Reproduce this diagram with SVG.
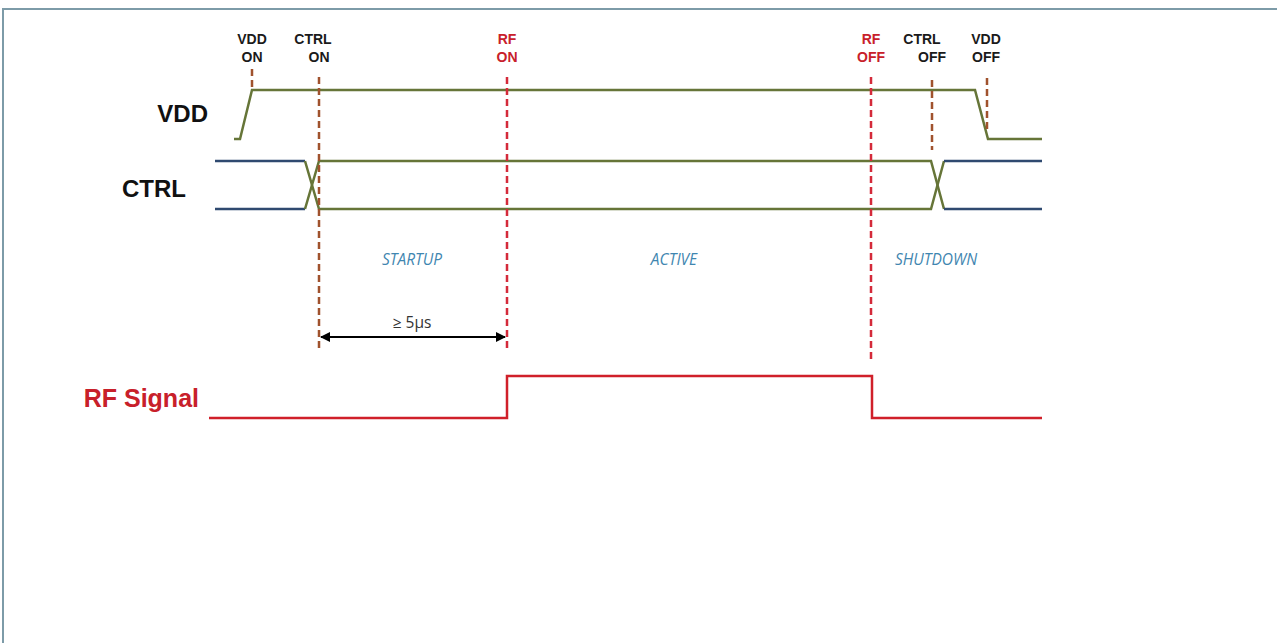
<svg xmlns="http://www.w3.org/2000/svg" width="1277" height="643" viewBox="0 0 1277 643">
<style>
.lbl{font-family:"Liberation Sans",Arial,sans-serif;font-weight:bold;font-size:14px;fill:#1a1a1a;text-anchor:middle}
.big{font-family:"Liberation Sans",Arial,sans-serif;font-weight:bold;font-size:24px;fill:#111;text-anchor:end}
.red{fill:#c8202a}
.phase{font-family:"Open Sans","Liberation Sans",sans-serif;font-style:italic;font-size:15.5px;fill:#3f86b0;text-anchor:middle}
.vdd{fill:none;stroke:#667538;stroke-width:2.5}
.ctrlb{fill:none;stroke:#2f4a70;stroke-width:2.5}
.ctrlg{fill:none;stroke:#667538;stroke-width:2.5}
.rf{fill:none;stroke:#d0202a;stroke-width:2.5}
.dbrown{stroke:#a0522d;stroke-width:2.5;stroke-dasharray:7,4;fill:none}
.dred{stroke:#d42a3a;stroke-width:2.5;stroke-dasharray:7,4;fill:none}
</style>
<defs>
<marker id="ah" markerWidth="10" markerHeight="10" refX="9" refY="5" orient="auto-start-reverse" markerUnits="userSpaceOnUse">
<path d="M0,0 L10,5 L0,10 z" fill="#000"/>
</marker>
</defs>
<rect x="0" y="0" width="1277" height="643" fill="#fff"/>
<path d="M3,643 L3,9 L1277,9" fill="none" stroke="#7d9ba8" stroke-width="2"/>

<g id="labels-top">
<text class="lbl" x="252" y="44">VDD</text><text class="lbl" x="252" y="62">ON</text>
<text class="lbl" x="313" y="44">CTRL</text><text class="lbl" x="319" y="62">ON</text>
<text class="lbl red" x="507" y="44">RF</text><text class="lbl red" x="507" y="62">ON</text>
<text class="lbl red" x="871" y="44">RF</text><text class="lbl red" x="871" y="62">OFF</text>
<text class="lbl" x="922" y="44">CTRL</text><text class="lbl" x="932" y="62">OFF</text>
<text class="lbl" x="986" y="44">VDD</text><text class="lbl" x="986" y="62">OFF</text>
</g>

<g id="signal-names">
<text class="big" x="208" y="122">VDD</text>
<text class="big" x="186" y="197">CTRL</text>
<text class="big red" x="199" y="407" style="font-size:25px">RF Signal</text>
</g>

<g id="phases">
<text class="phase" x="412" y="265">STARTUP</text>
<text class="phase" x="674" y="265">ACTIVE</text>
<text class="phase" x="936" y="265">SHUTDOWN</text>
</g>

<g id="signal-vdd">
<path class="vdd" d="M234,139 L240,139 L252,90 L975,90 L988,139 L1042,139"/>
</g>
<g id="signal-ctrl">
<path class="ctrlb" d="M215,161 L305,161"/>
<path class="ctrlb" d="M215,209 L305,209"/>
<path class="ctrlg" d="M305,161 L319,209 L931,209 L944,161"/>
<path class="ctrlg" d="M305,209 L319,161 L931,161 L944,209"/>
<path class="ctrlb" d="M944,161 L1042,161"/>
<path class="ctrlb" d="M944,209 L1042,209"/>
</g>
<g id="signal-rf">
<path class="rf" d="M209,418 L507,418 L507,376 L872,376 L872,418 L1042,418"/>
</g>

<g id="connectors">
<line class="dbrown" x1="252" y1="69" x2="252" y2="90"/>
<line class="dbrown" x1="319" y1="77" x2="319" y2="352"/>
<line class="dred" x1="507" y1="77" x2="507" y2="352"/>
<line class="dred" x1="871" y1="77" x2="871" y2="360"/>
<line class="dbrown" x1="932" y1="80" x2="932" y2="150"/>
<line class="dbrown" x1="987" y1="78" x2="987" y2="132"/>
<line x1="321" y1="337" x2="505" y2="337" stroke="#000" stroke-width="2" marker-start="url(#ah)" marker-end="url(#ah)"/>
<text x="412" y="328" style="font-family:'Open Sans','Liberation Sans',sans-serif;font-size:15.5px;fill:#333;text-anchor:middle">≥ 5µs</text>
</g>
</svg>
